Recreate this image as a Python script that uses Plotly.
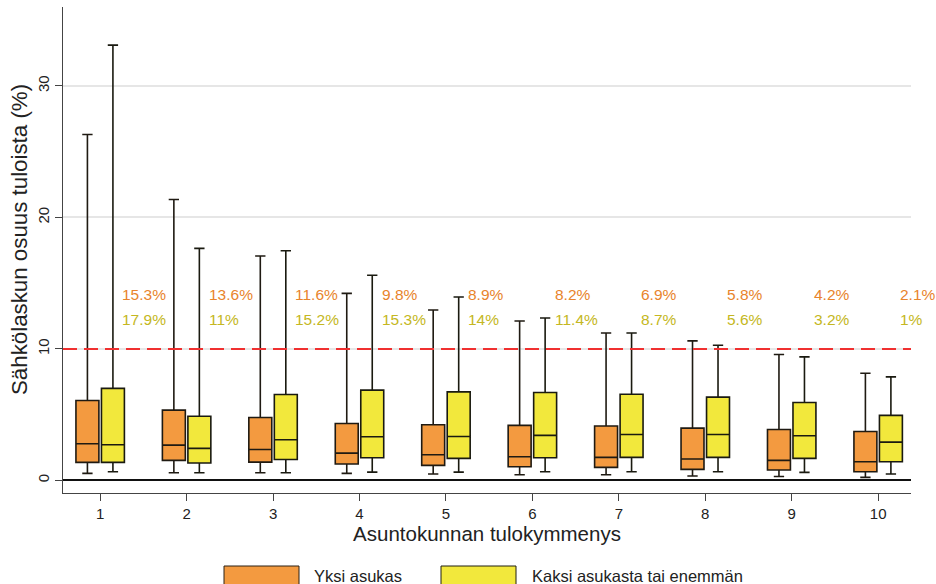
import plotly.graph_objects as go

deciles = [1, 2, 3, 4, 5, 6, 7, 8, 9, 10]

# Yksi asukas (one resident)
one_low = [0.53, 0.58, 0.58, 0.53, 0.48, 0.43, 0.43, 0.33, 0.30, 0.23]
one_q1 = [1.37, 1.52, 1.39, 1.24, 1.14, 1.04, 0.99, 0.84, 0.79, 0.66]
one_med = [2.79, 2.68, 2.35, 2.07, 1.95, 1.80, 1.75, 1.62, 1.52, 1.42]
one_q3 = [6.07, 5.34, 4.78, 4.33, 4.23, 4.18, 4.13, 3.97, 3.87, 3.72]
one_high = [26.3, 21.36, 17.06, 14.22, 12.96, 12.12, 11.21, 10.61, 9.57, 8.15]

# Kaksi asukasta tai enemmän (two or more residents)
two_low = [0.66, 0.58, 0.58, 0.63, 0.63, 0.66, 0.66, 0.66, 0.61, 0.48]
two_q1 = [1.37, 1.32, 1.59, 1.72, 1.67, 1.72, 1.75, 1.75, 1.67, 1.42]
two_med = [2.71, 2.43, 3.09, 3.32, 3.34, 3.42, 3.49, 3.49, 3.39, 2.91]
two_q3 = [7.00, 4.88, 6.53, 6.86, 6.73, 6.68, 6.55, 6.33, 5.92, 4.94]
two_high = [33.1, 17.64, 17.46, 15.6, 13.95, 12.35, 11.21, 10.28, 9.39, 7.87]

# Share above 10 % threshold
one_share = ["15.3%", "13.6%", "11.6%", "9.8%", "8.9%", "8.2%", "6.9%", "5.8%", "4.2%", "2.1%"]
two_share = ["17.9%", "11%", "15.2%", "15.3%", "14%", "11.4%", "8.7%", "5.6%", "3.2%", "1%"]

threshold = 10

ORANGE = "#F39A40"
YELLOW = "#F2E83C"
ORANGE_TXT = "#E8842C"
YELLOW_TXT = "#C4B722"
FONT = "Arial, Liberation Sans, sans-serif"

fig = go.Figure()
fig.add_trace(go.Box(
    name="Yksi asukas", x=deciles, q1=one_q1, median=one_med, q3=one_q3,
    lowerfence=one_low, upperfence=one_high,
    fillcolor=ORANGE, line=dict(color="#1f1a12", width=1.6),
    whiskerwidth=0.45, boxpoints=False, showlegend=False,
))
fig.add_trace(go.Box(
    name="Kaksi asukasta tai enemmän", x=deciles, q1=two_q1, median=two_med, q3=two_q3,
    lowerfence=two_low, upperfence=two_high,
    fillcolor=YELLOW, line=dict(color="#1a1a10", width=1.6),
    whiskerwidth=0.45, boxpoints=False, showlegend=False,
))

annotations = []
for d, s1, s2 in zip(deciles, one_share, two_share):
    annotations.append(dict(x=d + 0.245, y=14.1, text=s1, xanchor="left", yanchor="middle",
                            showarrow=False, borderpad=0,
                            font=dict(color=ORANGE_TXT, size=15.5, family=FONT)))
    annotations.append(dict(x=d + 0.245, y=12.2, text=s2, xanchor="left", yanchor="middle",
                            showarrow=False, borderpad=0,
                            font=dict(color=YELLOW_TXT, size=15.5, family=FONT)))

# pixel helpers for paper-referenced layout elements
def px_x(px):
    return (px - 63) / 848.0

def px_y(py):
    return (493 - py) / 486.0

shapes = [
    dict(type="line", xref="paper", x0=0, x1=1, yref="y", y0=threshold, y1=threshold,
         line=dict(color="#F03030", width=2, dash="14px,7px")),
    dict(type="rect", xref="paper", yref="paper", x0=px_x(224), x1=px_x(299), y0=px_y(600), y1=px_y(566),
         fillcolor=ORANGE, line=dict(color="#2a2015", width=1)),
    dict(type="rect", xref="paper", yref="paper", x0=px_x(441), x1=px_x(516), y0=px_y(600), y1=px_y(566),
         fillcolor=YELLOW, line=dict(color="#1f1f10", width=1)),
]
annotations.append(dict(xref="paper", yref="paper", x=px_x(312), y=px_y(576), text="Yksi asukas",
                        xanchor="left", yanchor="middle", showarrow=False,
                        font=dict(size=16.5, color="#222", family=FONT)))
annotations.append(dict(xref="paper", yref="paper", x=px_x(530), y=px_y(576), text="Kaksi asukasta tai enemmän",
                        xanchor="left", yanchor="middle", showarrow=False,
                        font=dict(size=16.5, color="#222", family=FONT)))
# y-axis title
annotations.append(dict(xref="paper", yref="paper", x=px_x(19), y=px_y(240), text="Sähkölaskun osuus tuloista (%)",
                        textangle=-90, xanchor="center", yanchor="middle", showarrow=False,
                        font=dict(size=22.3, color="#222", family=FONT)))

fig.update_layout(
    width=936, height=584,
    margin=dict(l=63, r=25, t=7, b=91),
    plot_bgcolor="white", paper_bgcolor="white",
    boxmode="group", boxgap=0.41, boxgroupgap=0.1,
    font=dict(family=FONT, color="#222"),
    shapes=shapes, annotations=annotations,
    xaxis=dict(range=[0.57, 10.38], tickvals=deciles, ticktext=[str(d) for d in deciles],
               showline=True, linecolor="#444", linewidth=1.2, ticks="outside", ticklen=7,
               tickcolor="#444", showgrid=False, zeroline=False, automargin=False,
               tickfont=dict(size=15),
               title=dict(text="Asuntokunnan tulokymmenys", font=dict(size=20.5), standoff=4)),
    yaxis=dict(range=[-0.96, 36], tickvals=[0, 10, 20, 30], tickangle=-90,
               showline=True, linecolor="#444", linewidth=1.2, ticks="outside", ticklen=7,
               tickcolor="#444", showgrid=True, gridcolor="#E6E6E6", gridwidth=1.5,
               zeroline=True, zerolinecolor="#111", zerolinewidth=2, automargin=False,
               tickfont=dict(size=15)),
)

fig.write_html("out.html", config={"displayModeBar": False},
               post_script="document.body.style.margin='0';document.body.style.overflow='hidden';")
